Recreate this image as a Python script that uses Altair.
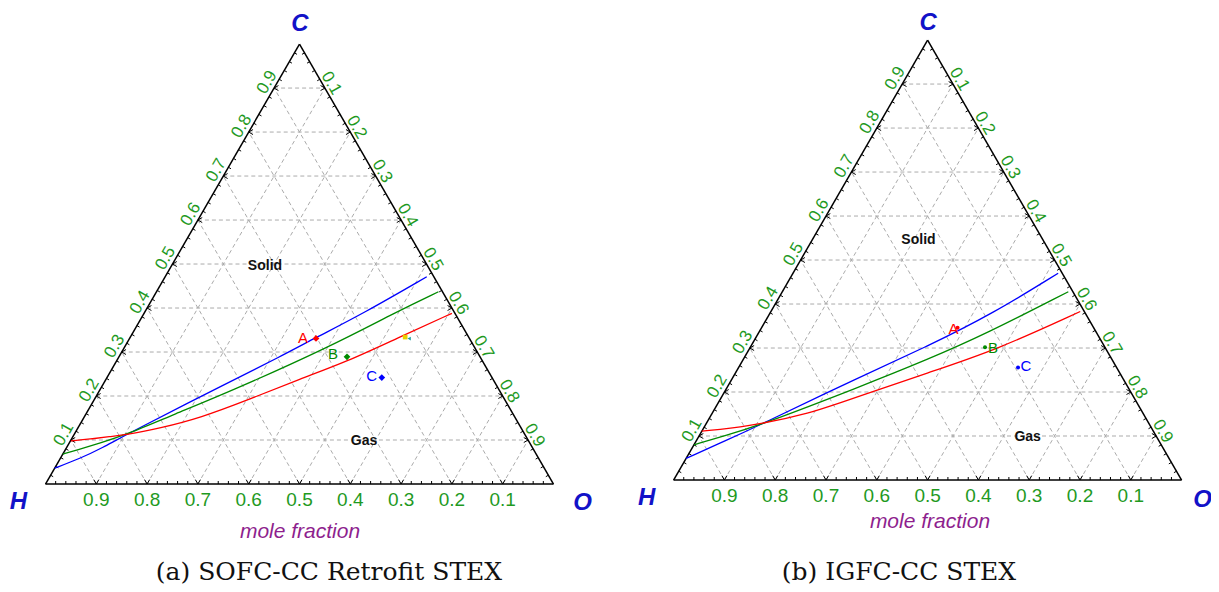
import altair as alt
import numpy as np
import pandas as pd

# ---------------- data: ternary mole fractions (C and O; H = 1 - C - O) ----------------
ticks = [0.1, 0.2, 0.3, 0.4, 0.5, 0.6, 0.7, 0.8, 0.9]
tick_text = ["0.1", "0.2", "0.3", "0.4", "0.5", "0.6", "0.7", "0.8", "0.9"]

# panel (a) SOFC-CC Retrofit STEX
blue_a_C = [0.036, 0.058, 0.083, 0.111, 0.233, 0.289, 0.333, 0.388, 0.471]
blue_a_O = [0.000, 0.039, 0.072, 0.101, 0.247, 0.317, 0.366, 0.432, 0.515]
green_a_C = [0.068, 0.077, 0.093, 0.111, 0.159, 0.210, 0.312, 0.392, 0.437]
green_a_O = [0.000, 0.023, 0.061, 0.101, 0.175, 0.258, 0.404, 0.496, 0.555]
red_a_C = [0.098, 0.102, 0.108, 0.111, 0.127, 0.150, 0.193, 0.239, 0.278, 0.331, 0.388]
red_a_O = [0.001, 0.037, 0.073, 0.101, 0.162, 0.229, 0.306, 0.382, 0.454, 0.526, 0.606]

# panel (b) IGFC-CC STEX
blue_b_C = [0.049, 0.091, 0.123, 0.235, 0.303, 0.379, 0.470]
blue_b_O = [0.000, 0.060, 0.105, 0.250, 0.347, 0.440, 0.522]
green_b_C = [0.080, 0.102, 0.123, 0.212, 0.273, 0.333, 0.428]
green_b_O = [0.000, 0.054, 0.105, 0.261, 0.362, 0.450, 0.563]
red_b_C = [0.111, 0.121, 0.150, 0.191, 0.243, 0.296, 0.383]
red_b_O = [0.000, 0.083, 0.192, 0.271, 0.377, 0.488, 0.609]

pt_names = ["A", "B", "C"]
pts_a_C = [0.331, 0.289, 0.242]
pts_a_O = [0.367, 0.449, 0.541]
pts_b_C = [0.346, 0.302, 0.256]
pts_b_O = [0.386, 0.462, 0.550]
marker_a_C = [0.334]
marker_a_O = [0.541]

region_names = ["Solid", "Gas"]
region_a_C = [0.496, 0.098]
region_a_O = [0.184, 0.578]
region_b_C = [0.546, 0.098]
region_b_O = [0.209, 0.648]

vertex_names = ["H", "O", "C"]
axis_title = "mole fraction"
captions = ["(a) SOFC-CC Retrofit STEX", "(b) IGFC-CC STEX"]

# ---------------- layout (triangle side = 1 unit) ----------------
PX = 508.0                      # pixels per unit
W, H = 1203, 576
X0 = -37.5 / PX
X1 = X0 + W / PX
Y_TOP = 476 / PX
Y_BOT = Y_TOP - H / PX
PANEL_DX = [0.0, 628.1 / PX]
PANEL_DY = [0.0, 4.0 / PX]
SQ = np.sqrt(3) / 2

COL_BLUE, COL_GREEN, COL_RED = "#0000ff", "#008a00", "#ff0000"
LABEL_GREEN = "#1f9a1f"


def tern(C, O, p):
    return O + C / 2 + PANEL_DX[p], C * SQ + PANEL_DY[p]


def px(dx, dy):
    """pixel offset (x right, y down) -> units"""
    return dx / PX, -dy / PX


xs = alt.Scale(domain=[X0, X1], nice=False, zero=False)
ys = alt.Scale(domain=[Y_BOT, Y_TOP], nice=False, zero=False)
X = lambda f="x": alt.X(f"{f}:Q", scale=xs, axis=None)
Y = lambda f="y": alt.Y(f"{f}:Q", scale=ys, axis=None)

# ---------------- grid / edges / ticks ----------------
grid_rows, edge_rows, tick_rows = [], [], []
for p in range(2):
    for v in ticks:
        for (c1, o1, c2, o2) in [(v, 0, v, 1 - v), (0, v, 1 - v, v), (0, 1 - v, 1 - v, 0)]:
            a = tern(c1, o1, p); b = tern(c2, o2, p)
            grid_rows.append(dict(x=a[0], y=a[1], x2=b[0], y2=b[1]))
    for (c1, o1, c2, o2) in [(0, 0, 0, 1), (0, 0, 1, 0), (1, 0, 0, 1)]:
        a = tern(c1, o1, p); b = tern(c2, o2, p)
        edge_rows.append(dict(x=a[0], y=a[1], x2=b[0], y2=b[1]))
    for k in range(1, 50):
        t = k * 0.02
        major = (k % 5 == 0)
        for edge in ["bottom", "left", "right"]:
            if edge == "bottom":
                base = tern(0, 1 - t, p); normal = (0, 1); vs = [(-0.5, SQ), (0.5, SQ)]
            elif edge == "left":
                base = tern(t, 0, p); normal = (SQ, -0.5); vs = [(SQ, 0.5), (SQ, -0.5)]
            else:
                base = tern(1 - t, t, p); normal = (-SQ, -0.5); vs = [(-SQ, 0.5), (-SQ, -0.5)]
            dirs = vs if major else [normal]
            L = (5 if major else 3) / PX
            for d in dirs:
                tick_rows.append(dict(x=base[0], y=base[1], x2=base[0] + d[0] * L, y2=base[1] + d[1] * L))

grid = alt.Chart(pd.DataFrame(grid_rows)).mark_rule(
    color="#ababab", strokeWidth=1, strokeDash=[4, 3]
).encode(x=X(), y=Y(), x2="x2:Q", y2="y2:Q")
edges = alt.Chart(pd.DataFrame(edge_rows)).mark_rule(color="black", strokeWidth=1.5).encode(
    x=X(), y=Y(), x2="x2:Q", y2="y2:Q")
tick_marks = alt.Chart(pd.DataFrame(tick_rows)).mark_rule(color="black", strokeWidth=1).encode(
    x=X(), y=Y(), x2="x2:Q", y2="y2:Q")

# ---------------- tick labels ----------------
bl, ll, rl = [], [], []
for p in range(2):
    for v, s in zip(ticks, tick_text):
        b = tern(0, 1 - v, p); o = px(0, 16)
        bl.append(dict(x=b[0] + o[0], y=b[1] + o[1], t=s))
        b = tern(v, 0, p)
        ll.append(dict(x=b[0] - SQ * 9 / PX + 0.5 * 1.5 / PX, y=b[1] + 0.5 * 9 / PX + SQ * 1.5 / PX, t=s))
        b = tern(1 - v, v, p)
        rl.append(dict(x=b[0] + SQ * 8 / PX - 0.5 * 1 / PX, y=b[1] + 0.5 * 8 / PX + SQ * 1 / PX, t=s))

lab_common = dict(font="Liberation Sans", color=LABEL_GREEN, align="center", baseline="middle")
bottom_labels = alt.Chart(pd.DataFrame(bl)).mark_text(fontSize=19, **lab_common).encode(x=X(), y=Y(), text="t:N")
left_labels = alt.Chart(pd.DataFrame(ll)).mark_text(fontSize=17, angle=300, **lab_common).encode(x=X(), y=Y(), text="t:N")
right_labels = alt.Chart(pd.DataFrame(rl)).mark_text(fontSize=17, angle=60, **lab_common).encode(x=X(), y=Y(), text="t:N")

# ---------------- curves ----------------
curve_rows = []
series = [
    (0, "blue", COL_BLUE, blue_a_C, blue_a_O), (0, "green", COL_GREEN, green_a_C, green_a_O),
    (0, "red", COL_RED, red_a_C, red_a_O),
    (1, "blue", COL_BLUE, blue_b_C, blue_b_O), (1, "green", COL_GREEN, green_b_C, green_b_O),
    (1, "red", COL_RED, red_b_C, red_b_O),
]
for p, name, col, Cs, Os in series:
    for i, (c, o) in enumerate(zip(Cs, Os)):
        x, y = tern(c, o, p)
        curve_rows.append(dict(x=x, y=y, s=f"{p}-{name}", col=col, i=i))
curves = alt.Chart(pd.DataFrame(curve_rows)).mark_line(strokeWidth=1.3, interpolate="basis").encode(
    x=X(), y=Y(), color=alt.Color("col:N", scale=None), detail="s:N", order="i:Q")

# ---------------- points ----------------
pt_cols = [COL_RED, COL_GREEN, COL_BLUE]
pa, pb, la, lb = [], [], [], []
off_a = [(-13, 0), (-14, -3), (-10, -2)]
off_b = [(-4, 1), (8, 1), (8, -1)]
for n, c, o, col, off in zip(pt_names, pts_a_C, pts_a_O, pt_cols, off_a):
    x, y = tern(c, o, 0); pa.append(dict(x=x, y=y, col=col))
    d = px(*off); la.append(dict(x=x + d[0], y=y + d[1], col=col, t=n))
for n, c, o, col, off in zip(pt_names, pts_b_C, pts_b_O, pt_cols, off_b):
    x, y = tern(c, o, 1); pb.append(dict(x=x, y=y, col=col))
    d = px(*off); lb.append(dict(x=x + d[0], y=y + d[1], col=col, t=n))

points_a = alt.Chart(pd.DataFrame(pa)).mark_point(shape="diamond", filled=True, size=45, opacity=1).encode(
    x=X(), y=Y(), color=alt.Color("col:N", scale=None))
points_b = alt.Chart(pd.DataFrame(pb)).mark_point(shape="circle", filled=True, size=16, opacity=1).encode(
    x=X(), y=Y(), color=alt.Color("col:N", scale=None))
pt_labels = alt.Chart(pd.DataFrame(la + lb)).mark_text(
    font="Liberation Sans", fontSize=15, align="center", baseline="middle").encode(
    x=X(), y=Y(), text="t:N", color=alt.Color("col:N", scale=None))

mx, my = tern(marker_a_C[0], marker_a_O[0], 0)
marker_y = alt.Chart(pd.DataFrame([dict(x=mx, y=my)])).mark_point(
    shape="square", filled=True, size=22, color="#e8d000", opacity=1).encode(x=X(), y=Y())
tdx = px(4, 1.5)
marker_t = alt.Chart(pd.DataFrame([dict(x=mx + tdx[0], y=my + tdx[1])])).mark_point(
    shape="triangle-left", filled=True, size=14, color="#20a0a0", opacity=1).encode(x=X(), y=Y())

# ---------------- region labels ----------------
rr = []
for n, c, o in zip(region_names, region_a_C, region_a_O):
    x, y = tern(c, o, 0); rr.append(dict(x=x, y=y, t=n))
for n, c, o in zip(region_names, region_b_C, region_b_O):
    x, y = tern(c, o, 1); rr.append(dict(x=x, y=y, t=n))
regions = alt.Chart(pd.DataFrame(rr)).mark_text(
    font="Liberation Sans", fontSize=14, fontWeight="bold", color="#111111", align="center", baseline="middle"
).encode(x=X(), y=Y(), text="t:N")

# ---------------- vertex labels, axis title, captions ----------------
vr = []
vert_off = [
    {"H": (0, 0, -27, 18), "O": (0, 1, 29, 19), "C": (1, 0, 0.5, -20.5)},
    {"H": (0, 0, -27, 18), "O": (0, 1, 21, 20), "C": (1, 0, 0.5, -17)},
]
for p in range(2):
    for n in vertex_names:
        c, o, ox, oy = vert_off[p][n]
        x, y = tern(c, o, p); d = px(ox, oy)
        vr.append(dict(x=x + d[0], y=y + d[1], t=n))
vertex_labels = alt.Chart(pd.DataFrame(vr)).mark_text(
    font="Liberation Sans", fontSize=24, fontWeight="bold", fontStyle="italic", color="#1212c8",
    align="center", baseline="middle").encode(x=X(), y=Y(), text="t:N")

title_pos = [(0.501, 47.7), (0.5047, 41.7)]
caption_pos = [(0.558, 95.5), (0.4437, 99.5)]
tr, cr = [], []
for p in range(2):
    x, y = tern(0, title_pos[p][0], p); d = px(0, title_pos[p][1])
    tr.append(dict(x=x, y=y + d[1], t=axis_title))
    x, y = tern(0, caption_pos[p][0], p); d = px(0, caption_pos[p][1])
    cr.append(dict(x=x, y=y + d[1], t=captions[p]))
titles = alt.Chart(pd.DataFrame(tr)).mark_text(
    font="Liberation Sans", fontSize=21, fontStyle="italic", color="#8e1f8e",
    align="center", baseline="middle").encode(x=X(), y=Y(), text="t:N")
caption_text = alt.Chart(pd.DataFrame(cr)).mark_text(
    font="DejaVu Serif", fontSize=25, color="#111111", align="center", baseline="alphabetic"
).encode(x=X(), y=Y(), text="t:N")

chart = alt.layer(
    grid, edges, tick_marks, curves, marker_y, marker_t, points_a, points_b,
    bottom_labels, left_labels, right_labels, pt_labels, regions, vertex_labels, titles, caption_text
).properties(
    width=W, height=H, padding=0, autosize=alt.AutoSizeParams(type="none")
).configure_view(stroke=None)

chart.save("out.html", embed_options={"renderer": "svg", "actions": False})
